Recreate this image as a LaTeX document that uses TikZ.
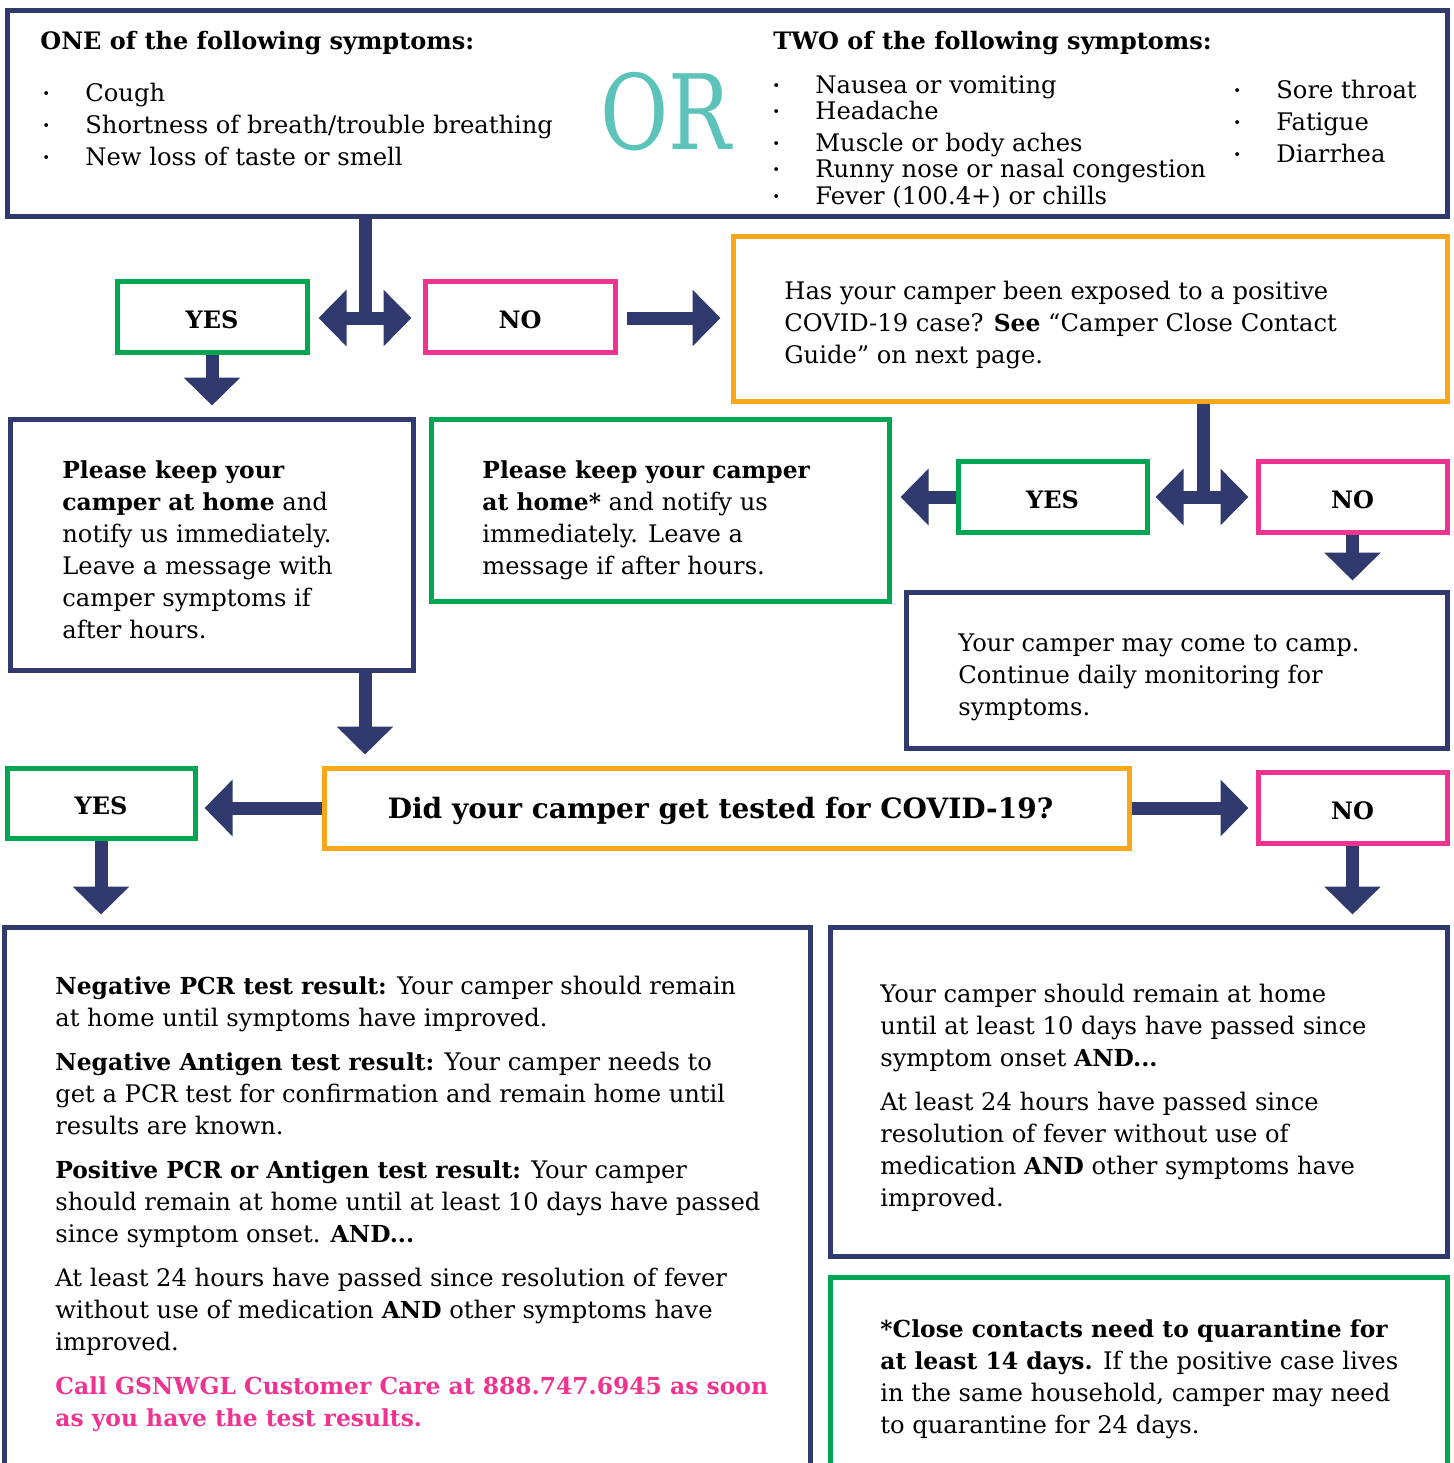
\documentclass[tikz,border=0pt]{standalone}
\usepackage{fontspec}
\usepackage{graphicx}
\setmainfont{DejaVu Serif}
\usetikzlibrary{arrows.meta,fit}

\definecolor{navy}{HTML}{313A6E}
\definecolor{grn}{HTML}{00A651}
\definecolor{pnk}{HTML}{EE3391}
\definecolor{orng}{HTML}{F9A61A}
\definecolor{orcolor}{HTML}{5CC3BB}

\tikzset{
  box/.style={draw, line width=2.5pt, inner sep=0pt},
  navybox/.style={box, draw=navy},
  greenbox/.style={box, draw=grn},
  pinkbox/.style={box, draw=pnk},
  orangebox/.style={box, draw=orng},
  txt/.style={anchor=north west, inner sep=0pt, align=left, font=\fontsize{12.1}{16}\selectfont},
  heading/.style={txt, font=\bfseries\fontsize{12}{16}\selectfont},
  answer/.style={yshift=-1.5pt, font=\bfseries\fontsize{12}{14}\selectfont},
  shaft/.style={draw=navy, line width=6.5pt},
  bigarrow/.style={shaft, -{Triangle[width=27.5pt,length=14pt]}},
  twoway/.style={shaft, {Triangle[width=27.5pt,length=14pt]}-{Triangle[width=27.5pt,length=14pt]}},
}
\newcommand{\bul}{\makebox[21.5pt][l]{\raisebox{0.25ex}{\scalebox{0.55}{•}}}}
\newcommand{\bt}[1]{{\bfseries\fontsize{11.7}{16}\selectfont #1}}

\begin{document}
\begin{tikzpicture}[x=0.5pt,y=-0.5pt]
\useasboundingbox (0,0) rectangle (1453,1463);

% symptoms
\node[navybox, fit={(7,10) (1447,216)}] (top) {};
\node[heading] (one) at (40,31) {ONE of the following symptoms:};
\node[txt] (list1) at (42,83) {\bul Cough\\ \bul Shortness of breath/trouble breathing\\ \bul New loss of taste or smell};
\node[font=\fontsize{52}{52}\selectfont, text=orcolor] (or) at (666,112) {\scalebox{0.8}[1]{OR}};
\node[heading] (two) at (773,31) {TWO of the following symptoms:};
\node[txt] (list2) at (772,75) {\bul Nausea or vomiting\\[-3pt] \bul Headache\\ \bul Muscle or body aches\\[-3pt] \bul Runny nose or nasal congestion\\[-2.5pt] \bul Fever (100.4+) or chills};
\node[txt] (list3) at (1233,80) {\bul Sore throat\\ \bul Fatigue\\ \bul Diarrhea};

% first answer
\coordinate (split1) at (365,318);
\node[greenbox, fit={(117,281) (307,352)}] (yes1) {};
\node[answer] at (yes1.center) {YES};
\node[pinkbox, fit={(425,281) (615,352)}] (no1) {};
\node[answer] at (no1.center) {NO};
\node[orangebox, fit={(733,236) (1447,401)}] (expo) {};
\node[txt] (expotxt) at (784,281) {Has your camper been exposed to a positive\\ COVID-19 case? \bt{See} “Camper Close Contact\\ Guide” on next page.};

\draw[shaft] (top.south -| split1) -- (split1);
\draw[twoway] ([xshift=4.5pt]yes1.east |- split1) -- ([xshift=-5.5pt]no1.west |- split1);
\draw[bigarrow] ([xshift=4.5pt]no1.east |- split1) -- ([xshift=-5pt]expo.west |- split1);

\node[navybox, fit={(10,419) (413,670)}] (keep1) {};
\node[txt] (keep1txt) at (62,460) {\bt{Please keep your}\\ \bt{camper at home} and\\ notify us immediately.\\ Leave a message with\\ camper symptoms if\\ after hours.};
\draw[bigarrow] (yes1.south) -- ([yshift=5.5pt]keep1.north -| yes1.south);

% exposure answer
\coordinate (split2) at (1203,497);
\node[greenbox, fit={(431,419) (889,601)}] (keep2) {};
\node[txt] (keep2txt) at (482,460) {\bt{Please keep your camper}\\ \bt{at home*} and notify us\\ immediately. Leave a\\ message if after hours.};
\node[greenbox, fit={(958,461) (1147,532)}] (yes3) {};
\node[answer] at (yes3.center) {YES};
\node[pinkbox, fit={(1258,461) (1447,532)}] (no3) {};
\node[answer] at (no3.center) {NO};
\node[navybox, fit={(906,592) (1447,748)}] (ok) {};
\node[txt] (oktxt) at (958,633) {Your camper may come to camp.\\ Continue daily monitoring for\\ symptoms.};

\draw[shaft] (expo.south -| split2) -- (split2);
\draw[twoway] ([xshift=3pt]yes3.east |- split2) -- ([xshift=-3.5pt]no3.west |- split2);
\draw[bigarrow] (yes3.west |- split2) -- ([xshift=4.5pt]keep2.east |- split2);
\draw[bigarrow] (no3.south) -- ([yshift=4.5pt]ok.north -| no3.south);

% test question
\node[orangebox, fit={(324,768) (1129,848)}] (q) {};
\node[font=\bfseries\fontsize{14}{16}\selectfont] at ([xshift=-3pt,yshift=-1.5pt]q.center) {Did your camper get tested for COVID-19?};
\node[greenbox, fit={(7,768) (195,838)}] (yes4) {};
\node[answer] at (yes4.center) {YES};
\node[pinkbox, fit={(1258,772) (1447,843)}] (no4) {};
\node[answer] at (no4.center) {NO};
\draw[bigarrow] (split1 |- keep1.south) -- ([yshift=5.5pt]split1 |- q.north);
\draw[bigarrow] (q.west) -- ([xshift=3.5pt]yes4.east |- q.west);
\draw[bigarrow] (q.east) -- ([xshift=-3.5pt]no4.west |- q.east);

% results
\node[navybox, fit={(4,927) (810,1500)}] (res) {};
\node[txt] (restxt) at (55,976) {\bt{Negative PCR test result:} Your camper should remain\\ at home until symptoms have improved.\\[6pt]
\bt{Negative Antigen test result:} Your camper needs to\\ get a PCR test for confirmation and remain home until\\ results are known.\\[6pt]
\bt{Positive PCR or Antigen test result:} Your camper\\ should remain at home until at least 10 days have passed\\ since symptom onset. \bt{AND...}\\[6pt]
At least 24 hours have passed since resolution of fever\\ without use of medication \bt{AND} other symptoms have\\ improved.\\[6pt]
\textcolor{pnk}{\bt{Call GSNWGL Customer Care at 888.747.6945 as soon}}\\ \textcolor{pnk}{\bt{as you have the test results.}}};
\node[navybox, fit={(830,927) (1447,1256)}] (wait) {};
\node[txt] (waittxt) at (880,984) {Your camper should remain at home\\ until at least 10 days have passed since\\ symptom onset \bt{AND...}\\[6pt]
At least 24 hours have passed since\\ resolution of fever without use of\\ medication \bt{AND} other symptoms have\\ improved.};
\node[greenbox, fit={(830,1277) (1447,1500)}] (close) {};
\node[txt] (closetxt) at (880,1319) {\bt{*Close contacts need to quarantine for}\\ \bt{at least 14 days.} If the positive case lives\\ in the same household, camper may need\\ to quarantine for 24 days.};
\draw[bigarrow] (yes4.south) -- ([yshift=5pt]res.north -| yes4.south);
\draw[bigarrow] (no4.south) -- ([yshift=5pt]wait.north -| no4.south);
\end{tikzpicture}
\end{document}
